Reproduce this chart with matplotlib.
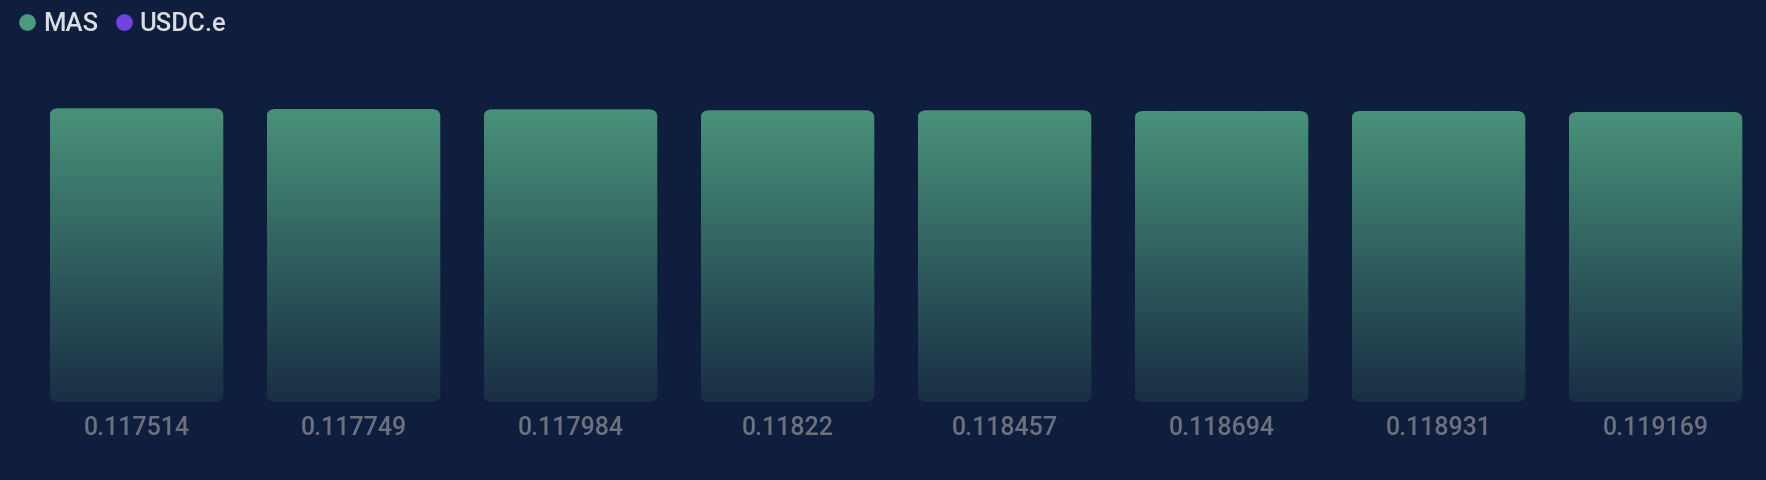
import numpy as np
import matplotlib.pyplot as plt
from matplotlib.patches import FancyBboxPatch
from matplotlib.lines import Line2D

prices = ['0.117514', '0.117749', '0.117984', '0.11822',
          '0.118457', '0.118694', '0.118931', '0.119169']
mas_amount = [100.0, 99.76, 99.66, 99.32, 99.32, 99.08, 99.08, 98.75]
series_names = ['MAS', 'USDC.e']
series_colors = ['#4a9a7c', '#7442e0']

BG = '#0f1e3c'
TOP = np.array([0x48, 0x92, 0x79]) / 255
BOTTOM = np.array([0x19, 0x2e, 0x45]) / 255

fig = plt.figure(figsize=(17.66, 4.8), dpi=100, facecolor=BG)
ax = fig.add_axes([0, 78 / 480, 1, 342 / 480])
ax.set_facecolor(BG)
ax.set_xlim(-136.5 / 217, (1766 - 136.5) / 217)
ax.set_ylim(0, max(mas_amount) * 342 / 293.7)
for s in ax.spines.values():
    s.set_visible(False)

# vertical gradient image, clipped to each rounded bar
t = np.linspace(0, 1, 256)[:, None]
grad = (BOTTOM + (TOP - BOTTOM) * t)[:, None, :]
grad = np.repeat(grad, 2, axis=1)

width = 0.8
for i, h in enumerate(mas_amount):
    x0 = i - width / 2
    patch = FancyBboxPatch((x0, 0), width, h, boxstyle='round,pad=0,rounding_size=0.04',
                           mutation_aspect=h / 0.8 * 0.16 / 0.8 * 2.5,
                           facecolor='none', edgecolor='none')
    ax.add_patch(patch)
    im = ax.imshow(grad, extent=(x0, x0 + width, 0, h), origin='lower',
                   aspect='auto', interpolation='bilinear')
    im.set_clip_path(patch)

ax.set_xticks(range(len(prices)), prices)
ax.tick_params(axis='x', length=0, pad=10, labelsize=18, labelcolor='#6c7180')
for lab in ax.get_xticklabels():
    lab.set_family(['Roboto', 'DejaVu Sans'])
    lab.set_fontweight('medium')
ax.set_yticks([])

handles = [Line2D([], [], marker='o', linestyle='none', markersize=12,
                  markerfacecolor=c, markeredgecolor='none') for c in series_colors]
fig.legend(handles, series_names, loc='upper left', bbox_to_anchor=(-0.002, 1.024),
           ncol=2, frameon=False, handlelength=0.6, handletextpad=0.3,
           columnspacing=0.7, labelcolor='#dcdde2',
           prop={'family': 'Roboto', 'size': 18.5, 'weight': 'medium'})

fig.savefig('out.png', dpi=100, facecolor=BG)
